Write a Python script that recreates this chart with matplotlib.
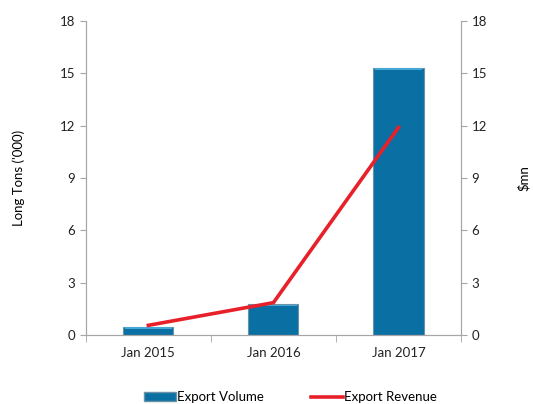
import numpy as np
import matplotlib.pyplot as plt
from matplotlib.lines import Line2D
from matplotlib.patches import Patch

plt.rcParams['font.family'] = ['Lato', 'DejaVu Sans']

months = ["Jan 2015", "Jan 2016", "Jan 2017"]
export_volume = [0.45, 1.75, 15.3]     # long tons ('000)
export_revenue = [0.55, 1.85, 11.9]    # $mn

bar_color = '#0a6fa3'
line_color = '#e8202a'
axis_gray = '#a6a6a6'
fs = 9.5

fig = plt.figure(figsize=(5.33, 4.04), dpi=100)
ax = fig.add_axes([0.161, 0.171, 0.704, 0.777])
ax2 = ax.twinx()

x = np.arange(len(months))
ax.bar(x, export_volume, 0.4, color=bar_color, edgecolor='#6b93a8', linewidth=0.8, zorder=2)
# lighter bevel along the top of each bar
ax.bar(x, [0.1] * len(x), 0.38, bottom=np.array(export_volume) - 0.12,
       color='#46a6d6', linewidth=0, zorder=2)
ax2.plot(x, export_revenue, color=line_color, linewidth=2.6, zorder=3)

for a in (ax, ax2):
    a.set_ylim(0, 18)
    a.set_yticks(range(0, 19, 3))
    a.set_xlim(-0.5, 2.5)
    for s in a.spines.values():
        s.set_color(axis_gray)
    a.spines['top'].set_visible(False)
    a.tick_params(axis='y', colors=axis_gray, labelcolor='#222222', labelsize=fs, length=4)

ax.set_xticks(x)
ax.set_xticklabels(months)
ax.set_xticks([-0.5, 0.5, 1.5, 2.5], minor=True)
ax.tick_params(axis='x', which='major', length=0, pad=9, labelsize=fs, labelcolor='#222222')
ax.tick_params(axis='x', which='minor', length=5, color=axis_gray)

ax.set_ylabel("Long Tons ('000)", fontsize=fs, labelpad=25)
ax2.set_ylabel("$mn", fontsize=fs, labelpad=22)

handles = [Patch(facecolor=bar_color, edgecolor='#6b93a8'),
           Line2D([], [], color=line_color, linewidth=2.6)]
fig.legend(handles, ["Export Volume", "Export Revenue"], loc='lower center',
           bbox_to_anchor=(0.545, -0.028), ncol=2, frameon=False, fontsize=fs,
           handlelength=2.4, handletextpad=0.1, columnspacing=3.6)

fig.savefig("out.png", dpi=100)
